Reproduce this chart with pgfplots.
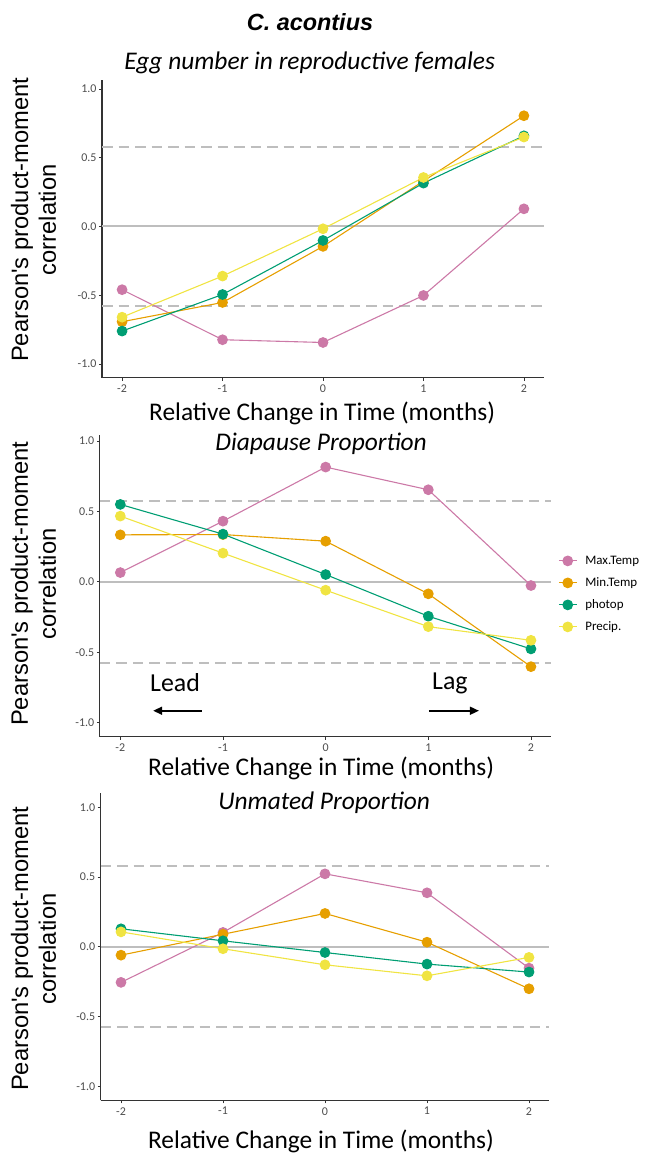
\documentclass[border=0pt]{standalone}
\usepackage{fontspec}
\usepackage{pgfplots}
\pgfplotsset{compat=1.18}
\usetikzlibrary{arrows.meta}
\setmainfont{Carlito}
\newfontfamily\ylabfont{Liberation Sans}
\definecolor{cmax}{HTML}{CC79A7}
\definecolor{cmin}{HTML}{E69F00}
\definecolor{cpho}{HTML}{009E73}
\definecolor{cpre}{HTML}{F0E442}
\definecolor{refgrey}{HTML}{BEBEBE}
\definecolor{axgrey}{HTML}{333333}
\definecolor{tickgrey}{HTML}{4D4D4D}
\pgfplotsset{
  panel/.style={
    scale only axis, anchor=south west,
    xmin=-2.2, xmax=2.2, xtick={-2,-1,0,1,2}, ytick={-1,-0.5,0,0.5,1},
    yticklabel style={/pgf/number format/fixed, /pgf/number format/fixed zerofill, /pgf/number format/precision=1},
    /pgf/number format/assume math mode=true,
    axis x line*=bottom, axis y line*=left,
    axis line style={axgrey, line width=1.1bp},
    tick style={axgrey, line width=0.8bp},
    tick align=outside, major tick length=3bp,
    ticklabel style={font=\fontsize{12}{13}\selectfont, text=tickgrey},
    xticklabel style={yshift=-0.5bp},
    yticklabel style={xshift=1bp},
    xlabel={Relative Change in Time (months)},
    ylabel={Pearson's product-moment\\correlation},
    xlabel style={font=\fontsize{25.5}{28}\selectfont, anchor=center},
    ylabel style={font=\ylabfont\fontsize{23.8}{28}\selectfont, align=center, anchor=center},
    title style={font=\itshape\fontsize{25.5}{28}\selectfont, anchor=center},
    clip=false,
  },
  ser/.style={line width=1.1bp, mark=*, mark size=4.8bp, mark options={solid}},
  zl/.style={refgrey, line width=2bp, forget plot},
  dl/.style={refgrey, line width=2bp, dash pattern=on 10.5bp off 6bp, forget plot},
}
\begin{document}
\begin{tikzpicture}
\useasboundingbox (0bp,0bp) rectangle (648bp,1154bp);
\node[font=\ylabfont\bfseries\itshape\fontsize{23.5}{26}\selectfont] at (310bp,1132bp) {C. acontius};

% ---------- Panel 1
\begin{axis}[panel, at={(102bp,776.3bp)}, width=442bp, height=297.7bp, ymin=-1.1, ymax=1.065,
  title={Egg number in reproductive females},
  title style={at={(axis description cs:0.47,1.037)}},
  xlabel style={at={(axis description cs:0.498,-0.121)}},
  ylabel style={at={(axis description cs:-0.155,0.53)}}]
\addplot[zl] coordinates {(-2.2,0) (2.2,0)};
\addplot[dl] coordinates {(-2.2,0.576) (2.2,0.576)};
\addplot[dl] coordinates {(-2.2,-0.576) (2.2,-0.576)};
\addplot[ser, color=cmax] coordinates {(-2,-0.460) (-1,-0.824) (0,-0.844) (1,-0.502) (2,0.128)};
\addplot[ser, color=cmin] coordinates {(-2,-0.693) (-1,-0.553) (0,-0.145) (1,0.330) (2,0.805)};
\addplot[ser, color=cpho] coordinates {(-2,-0.761) (-1,-0.495) (0,-0.102) (1,0.315) (2,0.659)};
\addplot[ser, color=cpre] coordinates {(-2,-0.660) (-1,-0.361) (0,-0.017) (1,0.356) (2,0.650)};
\end{axis}

% ---------- Panel 2
\begin{axis}[panel, at={(99.8bp,417.2bp)}, width=451.7bp, height=302.1bp, ymin=-1.1, ymax=1.045,
  title={Diapause Proportion},
  title style={at={(axis description cs:0.49,0.9495)}},
  xlabel style={at={(axis description cs:0.49,-0.106)}},
  ylabel style={at={(axis description cs:-0.147,0.506)}},
  legend style={at={(axis description cs:1.0144,0.473)}, anchor=west, draw=none, fill=none,
    font=\fontsize{13}{14}\selectfont, inner sep=0pt, row sep=6.5bp,
    nodes={inner sep=2bp, text height=9bp, text depth=2.5bp}},
  legend cell align=left,
  legend image code/.code={\draw[#1, mark repeat=2, mark phase=2] plot coordinates {(0bp,0bp) (9bp,0bp) (18bp,0bp)}; \path (24bp,0bp);}]
\addplot[zl] coordinates {(-2.2,0) (2.2,0)};
\addplot[dl] coordinates {(-2.2,0.576) (2.2,0.576)};
\addplot[dl] coordinates {(-2.2,-0.576) (2.2,-0.576)};
\addplot[ser, color=cmax] coordinates {(-2,0.066) (-1,0.431) (0,0.815) (1,0.654) (2,-0.026)};
\addlegendentry{Max.Temp}
\addplot[ser, color=cmin] coordinates {(-2,0.334) (-1,0.336) (0,0.289) (1,-0.085) (2,-0.602)};
\addlegendentry{Min.Temp}
\addplot[ser, color=cpho] coordinates {(-2,0.550) (-1,0.339) (0,0.052) (1,-0.244) (2,-0.476)};
\addlegendentry{photop}
\addplot[ser, color=cpre] coordinates {(-2,0.467) (-1,0.204) (0,-0.059) (1,-0.318) (2,-0.415)};
\addlegendentry{Precip.}
\node[font=\fontsize{26}{28}\selectfont] at (axis cs:-1.467,-0.718) {Lead};
\node[font=\fontsize{26}{28}\selectfont] at (axis cs:1.21,-0.718) {Lag};
\draw[black, line width=1.6bp, -{Triangle[length=9bp,width=8bp]}] (axis cs:-1.205,-0.915) -- (axis cs:-1.68,-0.915);
\draw[black, line width=1.6bp, -{Triangle[length=9bp,width=8bp]}] (axis cs:1.006,-0.915) -- (axis cs:1.493,-0.915);
\end{axis}

% ---------- Panel 3
\begin{axis}[panel, at={(100.6bp,53.75bp)}, width=448.8bp, height=306.9bp, ymin=-1.1, ymax=1.1,
  title={Unmated Proportion},
  title style={at={(axis description cs:0.498,0.949)}},
  xlabel style={at={(axis description cs:0.491,-0.1325)}},
  ylabel style={at={(axis description cs:-0.1495,0.493)}}]
\addplot[zl] coordinates {(-2.2,0) (2.2,0)};
\addplot[dl] coordinates {(-2.2,0.576) (2.2,0.576)};
\addplot[dl] coordinates {(-2.2,-0.576) (2.2,-0.576)};
\addplot[ser, color=cmax] coordinates {(-2,-0.255) (-1,0.103) (0,0.523) (1,0.387) (2,-0.153)};
\addplot[ser, color=cmin] coordinates {(-2,-0.060) (-1,0.090) (0,0.239) (1,0.033) (2,-0.301)};
\addplot[ser, color=cpho] coordinates {(-2,0.129) (-1,0.043) (0,-0.041) (1,-0.124) (2,-0.181)};
\addplot[ser, color=cpre] coordinates {(-2,0.107) (-1,-0.014) (0,-0.129) (1,-0.208) (2,-0.076)};
\end{axis}
\end{tikzpicture}
\end{document}
